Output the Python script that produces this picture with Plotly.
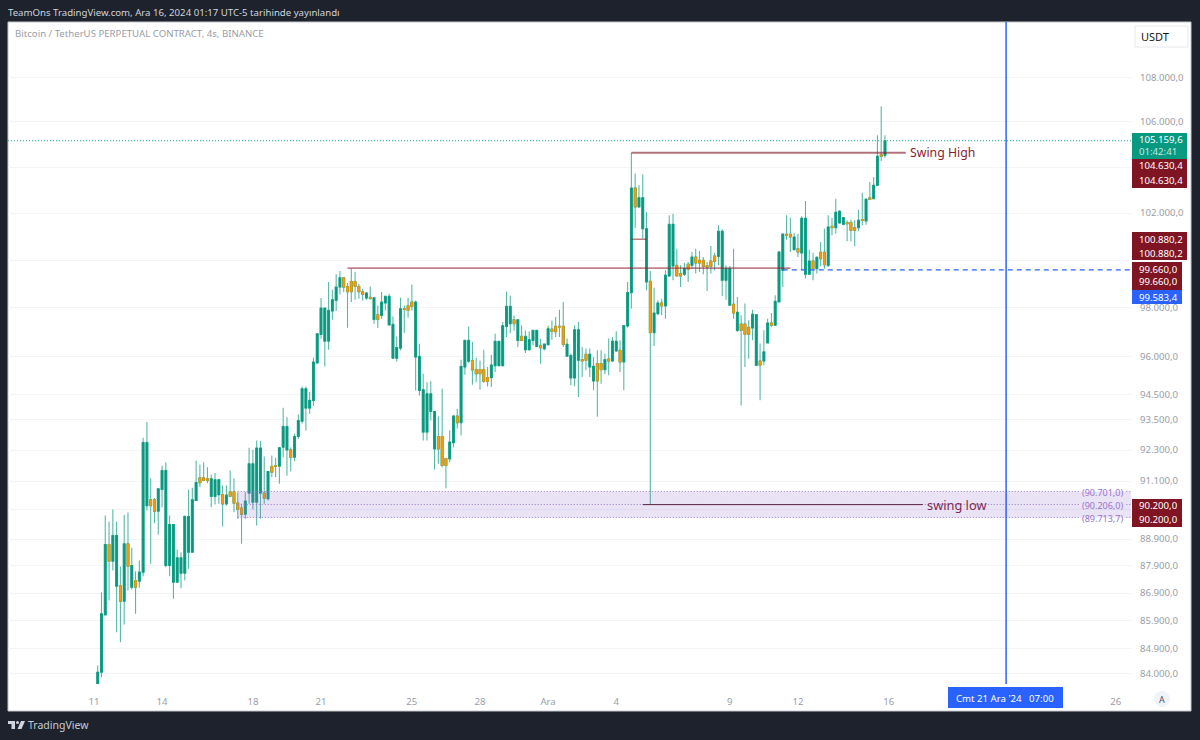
import math
import pandas as pd
import plotly.graph_objects as go

W, H = 1200, 740
L, R, T, B = 8, 1131, 22, 684

bar_times = pd.date_range("2024-11-11 07:00", periods=209, freq="4h")

highs = [
84283,86931,89787,89560,90014,89560,87877,89811,89900,88570,
87704,88100,92780,93394,91213,90450,90841,91689,91830,89787,
89447,88508,88409,89787,90766,90841,91894,91740,91830,91637,
91355,91406,91188,90931,90931,91509,91201,90676,90230,90676,
92388,92310,92675,92650,92051,91483,92090,92000,92414,93960,
93589,92413,92934,93695,94808,94808,94583,95963,96940,98415,
98000,99073,98754,99398,99538,99255,99031,99632,99505,99003,
98795,98657,98892,98450,98105,98657,98519,98588,97649,96830,
98422,98105,98422,98975,98312,96530,95316,94981,95021,93827,
93615,94715,91997,93065,93682,93920,95883,96667,97240,96599,
95963,95851,96285,95586,96082,96940,96639,97417,98685,98519,
97690,97512,97280,97076,97035,97103,97103,96735,96530,97267,
97485,97621,97925,98243,96740,96133,97284,97420,96403,96336,
96336,95994,96268,96268,96133,96740,96808,97038,96673,97284,
99080,104630,103710,103199,103667,102046,99539,98841,98315,98384,
99567,101903,101975,100480,99776,99887,99915,100340,100480,100382,
100127,99915,100593,100311,101473,101301,99776,99748,100480,98452,
97695,98178,97488,97928,97722,96538,97078,97558,97790,98522,
100368,101117,101903,101803,101145,101117,101860,102519,100438,100311,
100155,100762,101330,101903,101803,102619,102118,101832,101688,101717,
101688,102147,102880,102648,103345,103564,105397,106693,105397]

body_tops = [
84046,86139,88696,88696,89034,89034,87175,88720,88720,87914,
87359,87667,92590,92590,90383,90383,90803,91509,91509,89447,
89447,88197,88197,89749,89749,90383,91046,91227,91227,91188,
91188,91150,91150,90587,90561,90689,90689,90256,90065,90332,
91766,91766,92375,92375,90638,91470,91663,91689,92388,93222,
93222,92308,92830,93458,94715,94715,94252,95789,96940,97993,
97993,97897,98340,98865,99255,99255,98892,99101,99101,98892,
98671,98616,98436,98422,97718,98243,98477,98477,97321,96380,
97966,97966,98091,98243,98243,96017,94676,94517,94517,93814,
92830,92830,91971,92608,93629,93629,95612,96667,96667,95851,
95489,95489,95489,95168,95666,96626,96626,97267,98063,98063,
97512,97512,96830,96830,96694,97076,97076,96448,96516,97144,
97131,97240,97240,97240,96511,96052,97105,97105,95886,96102,
96102,95617,95724,95724,95886,95913,96632,96632,96268,97270,
98635,103083,103083,102662,102662,101330,99108,97790,98205,98205,
99359,101516,101516,99776,99428,99637,99817,100127,100127,99986,
99986,99762,99958,100169,101216,101216,99637,99637,98150,97818,
97338,97338,97200,97736,97722,95832,96200,97379,97379,98272,
100340,101103,101089,101089,100975,100480,101775,101775,99958,99958,
100113,100325,100325,101401,101430,102032,102075,101803,101588,101588,
101373,101688,101717,102590,102662,103199,104468,104542,105160]

body_bottoms = [
83515,84046,86103,88075,88075,87150,86600,86600,87889,87113,
87113,87335,87667,90155,90155,89952,89952,90778,87914,87914,
87298,87298,87630,87630,88409,88409,90357,91033,91125,91125,
90510,90510,90574,90230,90230,90523,90256,90014,89838,89838,
90638,90294,90294,90638,90447,90421,91444,91663,91676,92413,
92300,92024,92024,92830,93432,93947,93947,94252,95749,96912,
96639,96639,97870,98312,98865,98865,98671,98671,98892,98671,
98561,98408,98395,97526,97526,97690,98201,97294,95945,95945,
96353,97939,97897,98063,95990,94649,93000,93000,93814,92347,
92347,91701,91701,91958,92582,93366,93366,95586,95824,95475,
95316,95316,95008,95008,95155,95639,95639,95639,97240,97349,
97349,96667,96667,96285,96285,96667,96421,96367,96326,96489,
97035,97021,97212,96503,96025,95148,95148,95859,95832,95859,
95590,95027,95027,95483,95483,95832,95832,96241,95791,95791,
97257,98635,102262,102262,101330,99080,96983,96983,97763,98082,
98082,99331,99748,99331,99331,99400,99609,99776,99873,99873,
99734,99706,99734,99943,100155,99150,99150,98110,97790,97078,
97078,96916,96916,97173,95657,95657,95832,96565,97284,97284,
98245,99567,101046,100975,100438,100340,100297,99400,99400,99637,
99637,100056,99803,99776,101373,101373,101573,101516,101545,101258,
101258,101373,101688,101660,102590,102619,103199,104468,104512]

lows = [
83515,83869,86103,86625,87729,85476,85117,85754,86992,87030,
86139,87089,87519,89978,87976,89498,89059,90103,87852,87519,
86686,87298,87076,87359,87790,88409,90357,90867,91125,91020,
90103,90205,90230,89370,90155,90485,89914,89661,88720,89661,
90230,90014,89409,89661,90230,90357,91252,91252,90995,92024,
91307,91480,91869,92726,93327,93065,93722,94040,95749,96735,
95612,96285,97512,97870,98561,98657,97185,98243,98340,98381,
98312,98340,98340,97349,97172,97553,97897,97280,95945,95810,
96258,96967,97594,97897,94649,94450,92674,92674,93458,91547,
91766,91637,90827,91830,92413,93130,92869,95275,95749,94874,
94981,94676,94954,94808,94782,95383,95626,95639,96803,96967,
97076,96394,96639,96150,96258,96462,96394,95722,96258,96462,
96694,96803,96803,96394,95998,94853,94817,94388,95188,95456,
95188,94656,93600,94920,95295,95255,95791,96200,95389,94656,
97188,97970,101358,102233,100903,98730,90200,96444,97695,97695,
97558,99289,99150,99331,98870,99331,99080,99637,99428,99498,
99400,98702,99428,99567,99776,98494,98342,98110,97558,97010,
94053,95590,95926,96673,95617,94258,95657,96538,97215,97257,
98245,98870,100861,100340,100410,100127,99567,99219,99400,99150,
99428,99734,99637,99706,101046,101117,101545,101473,100790,100790,
100580,101216,101473,101502,102590,102590,103199,104262,104409]

orange_bars = [3,6,8,10,14,15,27,28,29,33,35,36,37,38,44,46,47,51,65,66,67,68,69,70,72,74,
81,82,83,90,91,92,95,99,100,101,102,103,110,112,117,120,121,122,123,128,129,132,133,135,138,
142,146,149,153,154,156,158,159,160,161,162,163,168,170,171,172,175,178,182,183,185,189,191,
192,194,198,199,200,202,204,207]

price_ticks = [108000,106000,104000,102000,100000,98000,96000,94500,93500,92300,91100,90000,
               88900,87900,86900,85900,84900,84000]
price_tick_labels = ["108.000,0","106.000,0","","102.000,0","","98.000,0","96.000,0","94.500,0",
                     "93.500,0","92.300,0","91.100,0","","88.900,0","87.900,0","86.900,0",
                     "85.900,0","84.900,0","84.000,0"]
time_ticks = ["2024-11-11 03:00","2024-11-14 03:00","2024-11-18 03:00","2024-11-21 03:00",
              "2024-11-25 03:00","2024-11-28 03:00","2024-12-01 03:00","2024-12-04 03:00",
              "2024-12-09 03:00","2024-12-12 03:00","2024-12-16 03:00","2024-12-26 03:00"]
time_tick_labels = ["11","14","18","21","25","28","Ara","4","9","12","16","26"]

last_price = 105159.6
swing_high = 104630.4
mid_high = 100880.2
prev_high = 99660.0
blue_level = 99583.4
swing_low = 90200.0
band_top, band_mid, band_bot = 90701.0, 90206.0, 89713.7
x_left, x_right = "2024-11-07 08:12", "2024-12-26 19:00"

GREEN, WICK, ORANGE, MAROON, PURPLE, BLUE, GRAY = "#089981", "#58b9a7", "#ff9800", "#7f1423", "#9575cd", "#2962ff", "#9a9da6"
DARK = "#1e222d"
FONT = "Noto Sans"
TXT = 9.65
FINE_DOT = "1px,2px"

px = lambda v: (v - L) / (R - L)
py = lambda v: (B - v) / (B - T)

def candles(x, hi, lo, top, bot, color, width=1):
    return go.Candlestick(
        x=x, open=bot, high=hi, low=lo, close=top,
        increasing=dict(line=dict(color=color, width=width), fillcolor=color),
        decreasing=dict(line=dict(color=color, width=width), fillcolor=color),
        whiskerwidth=0, showlegend=False, hoverinfo="skip")

ob = list(orange_bars)
fig = go.Figure()
fig.add_trace(candles(bar_times, highs, lows, body_tops, body_bottoms, WICK, 1.1))
fig.add_trace(candles(bar_times, body_tops, body_bottoms, body_tops, body_bottoms, GREEN, 0.7))
fig.add_trace(candles(bar_times[ob], [body_tops[i] for i in ob], [body_bottoms[i] for i in ob],
                      [body_tops[i] for i in ob], [body_bottoms[i] for i in ob], ORANGE, 0.7))

shapes, notes = [], []

def rect_px(x0, y0, x1, y1, fill, line=None, layer="above", lw=1):
    shapes.append(dict(type="rect", xref="paper", yref="paper", x0=px(x0), x1=px(x1), y0=py(y0), y1=py(y1),
                       fillcolor=fill, line=dict(color=line or fill, width=lw if line else 0), layer=layer))

def text_px(x, y, s, color, size=TXT, anchor="left"):
    notes.append(dict(xref="paper", yref="paper", x=px(x), y=py(y), text=s, showarrow=False,
                      xanchor=anchor, yanchor="middle", align=anchor,
                      font=dict(family=FONT, size=size, color=color)))

def hline(x0, x1, y, color, width=1, dash="solid"):
    shapes.append(dict(type="line", xref="x", yref="y", x0=x0, x1=x1, y0=y, y1=y,
                       line=dict(color=color, width=width, dash=dash), layer="above"))

# outer panel
rect_px(8, 22, 1191, 711, "#ffffff", "#c4c6cc", layer="below")

# purple zone
shapes.append(dict(type="rect", xref="x", yref="y", x0="2024-11-17 11:00", x1=x_right,
                   y0=band_bot, y1=band_top, fillcolor="rgba(149,117,205,0.2)",
                   line=dict(width=0), layer="above"))
for lvl in (band_top, band_mid, band_bot):
    hline("2024-11-17 11:00", "2024-12-24 13:00", lvl, PURPLE, 1, FINE_DOT)
    hline("2024-12-26 14:00", x_right, lvl, PURPLE, 1, FINE_DOT)

# drawn levels
hline(x_left, x_right, last_price, "#22ab94", 1, FINE_DOT)
hline("2024-12-04 19:00", "2024-12-16 21:00", swing_high, "rgba(127,20,35,0.6)", 2)
hline("2024-12-04 19:00", "2024-12-05 11:00", mid_high, "rgba(127,20,35,0.55)", 1.5)
hline("2024-11-22 07:00", "2024-12-11 19:00", prev_high, "#8f2433", 1)
hline("2024-12-11 11:00", x_right, blue_level, BLUE, 1.2, "5px,4px")
hline("2024-12-05 07:00", "2024-12-17 15:00", swing_low, "#5a2340", 1)
shapes.append(dict(type="line", xref="x", yref="paper", x0="2024-12-21 07:00", x1="2024-12-21 07:00",
                   y0=0, y1=py(22), line=dict(color=BLUE, width=1.5), layer="above"))

text_px(908, 152, "Swing High", "#8a1c30", 12.3)
text_px(925, 505, "swing low", "#7a2a55", 12.8)
text_px(1080, 492, "(90.701,0)", PURPLE, 9)
text_px(1080, 505, "(90.206,0)", PURPLE, 9)
text_px(1080, 518, "(89.713,7)", PURPLE, 9)

# price tags
rect_px(1132, 133, 1187, 159, GREEN)
text_px(1137, 140, "105.159,6", "#ffffff")
text_px(1137, 151, "01:42:41", "#c4e8e0")
rect_px(1132, 159, 1187, 188, MAROON)
text_px(1137, 166, "104.630,4", "#ffffff")
text_px(1137, 180, "104.630,4", "#ffffff")
rect_px(1132, 232, 1187, 260, MAROON)
text_px(1137, 239, "100.880,2", "#ffffff")
text_px(1137, 253, "100.880,2", "#ffffff")
rect_px(1132, 262, 1182, 290, MAROON)
text_px(1137, 269, "99.660,0", "#ffffff")
text_px(1137, 282, "99.660,0", "#ffffff")
rect_px(1132, 290, 1182, 304, BLUE)
text_px(1137, 297, "99.583,4", "#ffffff")
rect_px(1132, 499, 1182, 527, MAROON)
text_px(1137, 505.5, "90.200,0", "#ffffff")
text_px(1137, 519, "90.200,0", "#ffffff")

# crosshair date label
rect_px(948, 687, 1063, 708, BLUE)
text_px(1005.5, 698, "Cmt 21 Ara '24   07:00", "#ffffff", TXT, "center")

# header, legend line and footer
text_px(6, 12, "TeamOns TradingView.com, Ara 16, 2024 01:17 UTC-5 tarihinde yayınlandı", "#d1d4dc")
text_px(13, 34, "Bitcoin / TetherUS PERPETUAL CONTRACT, 4s, BINANCE", "#9a9da6")
text_px(26, 725, "TradingView", "#c8cbd3", 10.5)
rect_px(1135, 26, 1188, 47, "#ffffff", "#e6e8ec")
text_px(1139, 37, "USDT", "#131722", 11)
shapes.append(dict(type="circle", xref="paper", yref="paper", x0=px(1154), x1=px(1170), y0=py(707), y1=py(691),
                   fillcolor="#f0f3fa", line=dict(width=0), layer="above"))
text_px(1162, 699, "A", "#50535e", 9, "center")

def poly(points, fill):
    p = "M" + " L".join(f"{px(a):.5f},{py(b):.5f}" for a, b in points) + " Z"
    shapes.append(dict(type="path", xref="paper", yref="paper", path=p, fillcolor=fill, line=dict(width=0), layer="above"))
poly([(8, 721), (15, 721), (15, 729), (11.5, 729), (11.5, 724), (8, 724)], "#d1d4dc")
shapes.append(dict(type="circle", xref="paper", yref="paper", x0=px(16), x1=px(19), y0=py(724), y1=py(721),
                   fillcolor="#d1d4dc", line=dict(width=0), layer="above"))
poly([(21, 721), (25, 721), (21.5, 729), (17.5, 729)], "#d1d4dc")

fig.update_layout(
    width=W, height=H, paper_bgcolor=DARK, plot_bgcolor="#ffffff",
    margin=dict(l=L, r=W - R, t=T, b=H - B, pad=0),
    font=dict(family=FONT, size=TXT, color=GRAY),
    shapes=shapes, annotations=notes, showlegend=False, dragmode=False,
    xaxis=dict(range=[x_left, x_right], tickmode="array", tickvals=time_ticks, ticktext=time_tick_labels,
               showgrid=False, showline=False, zeroline=False, ticks="outside", ticklen=8,
               tickcolor="rgba(0,0,0,0)", rangeslider=dict(visible=False),
               tickfont=dict(size=TXT, color=GRAY, family=FONT), tickangle=0),
    yaxis=dict(type="log", side="right", range=[math.log10(83629), math.log10(110557)],
               tickmode="array", tickvals=price_ticks, ticktext=price_tick_labels,
               showgrid=True, gridcolor="#f3f4f6", gridwidth=1, showline=False, zeroline=False,
               ticks="outside", ticklen=6, tickcolor="rgba(0,0,0,0)",
               tickfont=dict(size=TXT, color=GRAY, family=FONT)),
)

fig.write_html("out.html", config=dict(displayModeBar=False),
               post_script="document.body.style.margin='0';document.body.style.overflow='hidden';")
